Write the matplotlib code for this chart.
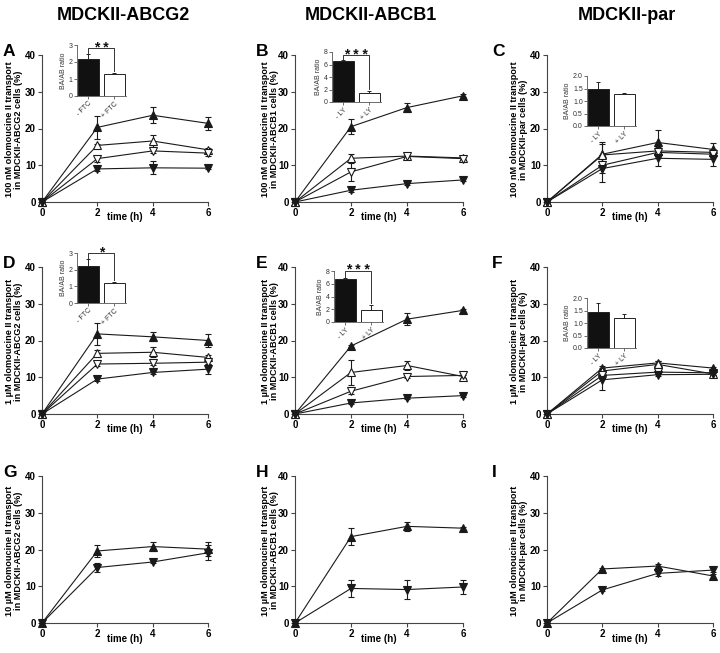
import matplotlib
matplotlib.use("Agg")
import matplotlib.pyplot as plt

plt.rcParams['font.family'] = ['Liberation Sans', 'DejaVu Sans']

W, H = 720, 653

times = [0, 2, 4, 6]

# ---- Panel A: 100 nM, ABCG2 ----
A_bup = [0, 20.3, 23.6, 21.4]; A_bup_err = [0, 3.2, 2.2, 1.8]
A_oup = [0, 15.4, 16.6, 14.2]; A_oup_err = [0, 0.5, 1.5, 0.6]
A_odn = [0, 11.8, 13.9, 13.3]; A_odn_err = [0, 0.8, 0.6, 0.8]
A_bdn = [0, 9.0, 9.3, 9.2];    A_bdn_err = [0, 0.5, 1.8, 0.3]
# ---- Panel B: 100 nM, ABCB1 ----
B_bup = [0, 20.5, 25.7, 28.9]; B_bup_err = [0, 2.0, 1.3, 0.4]
B_oup = [0, 11.9, 12.5, 12.0]; B_oup_err = [0, 1.2, 0.5, 0.6]
B_odn = [0, 8.2, 12.4, 11.8];  B_odn_err = [0, 2.6, 0.5, 0.5]
B_bdn = [0, 3.2, 5.0, 6.0];    B_bdn_err = [0, 0.4, 0.3, 0.4]
# ---- Panel C: 100 nM, par ----
C_bup = [0, 13.0, 16.2, 14.3]; C_bup_err = [0, 3.4, 3.5, 1.7]
C_oup = [0, 12.8, 13.9, 13.5]; C_oup_err = [0, 3.0, 1.5, 1.0]
C_odn = [0, 10.0, 13.5, 13.0]; C_odn_err = [0, 2.0, 1.5, 0.8]
C_bdn = [0, 9.1, 11.9, 11.6];  C_bdn_err = [0, 3.7, 2.0, 1.8]
# ---- Panel D: 1 uM, ABCG2 ----
D_bup = [0, 21.8, 21.0, 20.0]; D_bup_err = [0, 3.0, 1.2, 1.7]
D_oup = [0, 16.5, 16.8, 15.4]; D_oup_err = [0, 0.8, 1.3, 0.7]
D_odn = [0, 13.6, 13.8, 14.1]; D_odn_err = [0, 0.6, 0.6, 0.5]
D_bdn = [0, 9.5, 11.3, 12.2];  D_bdn_err = [0, 0.4, 0.5, 1.3]
# ---- Panel E: 1 uM, ABCB1 ----
E_bup = [0, 18.5, 25.8, 28.2]; E_bup_err = [0, 0.4, 1.6, 0.4]
E_oup = [0, 11.3, 13.2, 10.2]; E_oup_err = [0, 3.3, 1.3, 0.5]
E_odn = [0, 6.2, 10.2, 10.5];  E_odn_err = [0, 0.8, 0.4, 0.6]
E_bdn = [0, 3.0, 4.3, 5.0];    E_bdn_err = [0, 0.3, 0.3, 0.3]
# ---- Panel F: 1 uM, par ----
F_bup = [0, 12.5, 13.9, 12.5]; F_bup_err = [0, 0.6, 0.5, 0.4]
F_oup = [0, 11.7, 13.5, 10.9]; F_oup_err = [0, 0.8, 1.0, 0.5]
F_odn = [0, 10.5, 11.4, 11.2]; F_odn_err = [0, 1.0, 0.6, 0.5]
F_bdn = [0, 9.3, 10.7, 10.8];  F_bdn_err = [0, 2.8, 0.4, 0.3]
# ---- Panels G-I: 10 uM ----
G_bup = [0, 19.6, 20.8, 20.1]; G_bup_err = [0, 1.6, 1.3, 2.0]
G_bdn = [0, 15.1, 16.6, 19.1]; G_bdn_err = [0, 1.2, 0.4, 2.0]
H_bup = [0, 23.5, 26.3, 25.8]; H_bup_err = [0, 2.4, 1.3, 0.4]
H_bdn = [0, 9.4, 9.1, 9.8];    H_bdn_err = [0, 2.2, 2.5, 1.8]
I_bup = [0, 14.7, 15.5, 12.8]; I_bup_err = [0, 0.4, 0.5, 0.6]
I_bdn = [0, 9.0, 13.5, 14.4];  I_bdn_err = [0, 0.4, 0.6, 0.5]

# ---- Inset bar data (BA/AB ratio) ----
A_ratio = [2.2, 1.3]; A_ratio_err = [0.25, 0.03]
B_ratio = [6.5, 1.5]; B_ratio_err = [0.3, 0.25]
C_ratio = [1.5, 1.3]; C_ratio_err = [0.28, 0.02]
D_ratio = [2.2, 1.2]; D_ratio_err = [0.45, 0.08]
E_ratio = [6.8, 1.9]; E_ratio_err = [0.1, 0.8]
F_ratio = [1.45, 1.2]; F_ratio_err = [0.35, 0.15]
FTC_labels = ['- FTC', '+ FTC']
LY_labels = ['- LY', '+ LY']

col_titles = ['MDCKII-ABCG2', 'MDCKII-ABCB1', 'MDCKII-par']
col_cells = ['ABCG2', 'ABCB1', 'par']
row_conc = ['100 nM', '1 µM', '10 µM']
time_ticks = [0, 2, 4, 6]
y_ticks = [0, 10, 20, 30, 40]

fig = plt.figure(figsize=(W / 100, H / 100), dpi=100)
fig.patch.set_facecolor('white')


def rect(x0, x1, y0, y1):
    return [x0 / W, 1 - y1 / H, (x1 - x0) / W, (y1 - y0) / H]


col_x = [(42, 208), (295, 463), (547, 713)]
row_y = [(55, 202), (267, 414), (476, 623)]
ylab_x = [14, 270, 519]
letter_x = [3, 256, 492]
letters = [['A', 'B', 'C'], ['D', 'E', 'F'], ['G', 'H', 'I']]

spine_col = '#444444'
line_col = '#1a1a1a'

panel_series = {
    (0, 0): [(A_bup, A_bup_err, '^', True), (A_oup, A_oup_err, '^', False),
             (A_odn, A_odn_err, 'v', False), (A_bdn, A_bdn_err, 'v', True)],
    (0, 1): [(B_bup, B_bup_err, '^', True), (B_oup, B_oup_err, '^', False),
             (B_odn, B_odn_err, 'v', False), (B_bdn, B_bdn_err, 'v', True)],
    (0, 2): [(C_bup, C_bup_err, '^', True), (C_oup, C_oup_err, '^', False),
             (C_odn, C_odn_err, 'v', False), (C_bdn, C_bdn_err, 'v', True)],
    (1, 0): [(D_bup, D_bup_err, '^', True), (D_oup, D_oup_err, '^', False),
             (D_odn, D_odn_err, 'v', False), (D_bdn, D_bdn_err, 'v', True)],
    (1, 1): [(E_bup, E_bup_err, '^', True), (E_oup, E_oup_err, '^', False),
             (E_odn, E_odn_err, 'v', False), (E_bdn, E_bdn_err, 'v', True)],
    (1, 2): [(F_bup, F_bup_err, '^', True), (F_oup, F_oup_err, '^', False),
             (F_odn, F_odn_err, 'v', False), (F_bdn, F_bdn_err, 'v', True)],
    (2, 0): [(G_bup, G_bup_err, '^', True), (G_bdn, G_bdn_err, 'v', True)],
    (2, 1): [(H_bup, H_bup_err, '^', True), (H_bdn, H_bdn_err, 'v', True)],
    (2, 2): [(I_bup, I_bup_err, '^', True), (I_bdn, I_bdn_err, 'v', True)],
}

for r in range(3):
    for c in range(3):
        x0, x1 = col_x[c]
        y0, y1 = row_y[r]
        ax = fig.add_axes(rect(x0, x1, y0, y1))
        for vals, errs, mk, filled in panel_series[(r, c)]:
            ax.errorbar(times, vals, yerr=errs, fmt='-', marker=mk, color=line_col,
                        lw=0.8, ms=5.5, mfc=line_col if filled else 'white',
                        mec=line_col, mew=0.8, ecolor=line_col, elinewidth=0.8,
                        capsize=2, capthick=0.8, clip_on=False, zorder=3)
        ax.set_xlim(0, 6)
        ax.set_ylim(0, 40)
        ax.set_xticks(time_ticks)
        ax.set_yticks(y_ticks)
        for s in ['top', 'right']:
            ax.spines[s].set_visible(False)
        for s in ['left', 'bottom']:
            ax.spines[s].set_color(spine_col)
            ax.spines[s].set_linewidth(0.8)
        ax.tick_params(axis='both', length=3, width=0.8, color=spine_col,
                       labelsize=7, pad=1.5)
        for lab in ax.get_xticklabels() + ax.get_yticklabels():
            lab.set_fontweight('bold')
        ax.set_xlabel('time (h)', fontsize=7, fontweight='bold')
        ax.xaxis.label.set_va('center')
        ax.xaxis.set_label_coords(0.5, -15.5 / (y1 - y0))
        ylab = f'{row_conc[r]} olomoucine II transport\nin MDCKII-{col_cells[c]} cells (%)'
        fig.text(ylab_x[c] / W, 1 - ((y0 + y1) / 2 + 1) / H, ylab, rotation=90,
                 ha='center', va='center', fontsize=6.6, fontweight='bold',
                 linespacing=1.1)
        fig.text(letter_x[c] / W, 1 - (y0 + 1) / H, letters[r][c], fontsize=12.5,
                 fontweight='bold', ha='left', va='baseline')

for c in range(3):
    fig.text([123, 371, 627][c] / W, 1 - 15 / H, col_titles[c], fontsize=13,
             fontweight='bold', ha='center', va='center')

insets = [
    ((77, 126, 45, 96), A_ratio, A_ratio_err, FTC_labels, 3, [0, 1, 2, 3], '* *', 2.82, '%g'),
    ((332, 381, 52, 102), B_ratio, B_ratio_err, LY_labels, 8, [0, 2, 4, 6, 8], '* * *', 7.5, '%g'),
    ((587, 636, 76, 126), C_ratio, C_ratio_err, LY_labels, 2, [0, 0.5, 1.0, 1.5, 2.0], None, None, '%.1f'),
    ((77, 126, 253, 303), D_ratio, D_ratio_err, FTC_labels, 3, [0, 1, 2, 3], '*', 3.0, '%g'),
    ((334, 383, 271, 322), E_ratio, E_ratio_err, LY_labels, 8, [0, 2, 4, 6, 8], '* * *', 8.0, '%g'),
    ((587, 636, 298, 348), F_ratio, F_ratio_err, LY_labels, 2, [0, 0.5, 1.0, 1.5, 2.0], None, None, '%.1f'),
]

inset_col = '#555555'
for (x0, x1, y0, y1), vals, errs, labs, ymax, yt, sig, sig_y, fmtstr in insets:
    ax = fig.add_axes(rect(x0, x1, y0, y1))
    ax.bar([0, 1], vals, width=0.8, color=['#111111', 'white'], edgecolor='#222222',
           linewidth=0.7, zorder=2)
    ax.errorbar([0, 1], vals, yerr=[[0, 0], errs], fmt='none', ecolor='#222222',
                elinewidth=0.7, capsize=1.5, capthick=0.7, zorder=3)
    ax.set_xlim(-0.43, 1.45)
    ax.set_ylim(0, ymax)
    ax.set_yticks(yt)
    ax.set_yticklabels([fmtstr % v for v in yt])
    ax.set_xticks([0, 1])
    ax.set_xticklabels(labs, rotation=45, ha='right', rotation_mode='anchor')
    for s in ['top', 'right']:
        ax.spines[s].set_visible(False)
    for s in ['left', 'bottom']:
        ax.spines[s].set_color(inset_col)
        ax.spines[s].set_linewidth(0.6)
    ax.tick_params(axis='both', length=2, width=0.6, color=inset_col,
                   labelsize=5, pad=1, labelcolor='#333333')
    ax.set_ylabel('BA/AB ratio', fontsize=5, color='#333333', labelpad=1.5)
    if sig:
        top0 = vals[0] + errs[0] + ymax * 0.02
        top1 = vals[1] + errs[1] + ymax * 0.04
        ax.plot([0, 0, 1, 1], [top0, sig_y, sig_y, top1], color='#333333', lw=0.7,
                clip_on=False)
        ax.annotate(sig, xy=(0.5, sig_y), xytext=(0, -2.5), textcoords='offset points',
                    ha='center', va='baseline', fontsize=10, fontweight='bold',
                    color='#111111', annotation_clip=False)

fig.savefig('out.png', dpi=100, facecolor='white')
